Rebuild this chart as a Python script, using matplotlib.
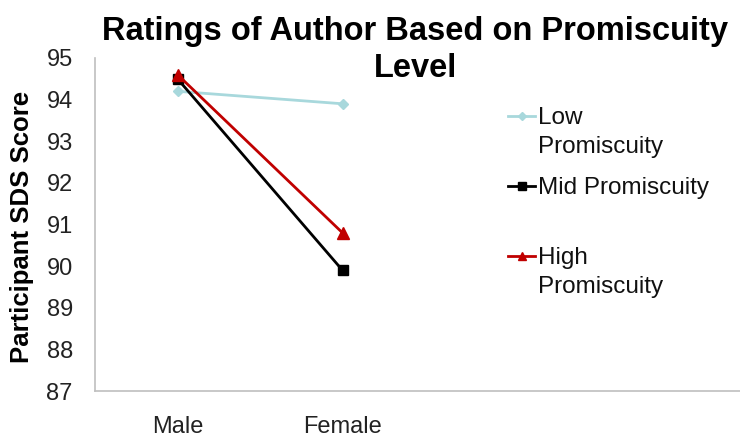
import matplotlib
matplotlib.use("Agg")
import matplotlib.pyplot as plt
from matplotlib.lines import Line2D

plt.rcParams['font.family'] = ['Liberation Sans', 'DejaVu Sans']

categories = ["Male", "Female"]
series_names = [["Low", "Promiscuity"], ["Mid Promiscuity"], ["High", "Promiscuity"]]
low_values = [94.2, 93.9]
mid_values = [94.5, 89.9]
high_values = [94.6, 90.8]
y_ticks = [87, 88, 89, 90, 91, 92, 93, 94, 95]

W, H = 740, 437
fig = plt.figure(figsize=(W / 100, H / 100), dpi=100)
ax = fig.add_axes([95 / W, (H - 391) / H, (W - 95) / W, (391 - 58) / H])

styles = [
    dict(color="#A8D8DC", marker="D", markersize=5, lw=2.0),
    dict(color="#000000", marker="s", markersize=7, lw=2.0),
    dict(color="#C00000", marker="^", markersize=8, lw=2.0),
]
xs = list(range(len(categories)))
for vals, st in zip([low_values, mid_values, high_values], styles):
    ax.plot(xs, vals, color=st["color"], marker=st["marker"],
            markersize=st["markersize"], lw=st["lw"],
            markerfacecolor=st["color"], markeredgecolor=st["color"],
            solid_capstyle="butt", zorder=3)

ax.set_xlim(-0.5, (W - 95) / 165 - 0.5)
ax.set_ylim(87, 95)
ax.set_yticks(y_ticks)
ax.set_xticks(xs)
ax.set_xticklabels(categories)
ax.tick_params(axis="both", length=0, labelsize=17, colors="#222222")
ax.tick_params(axis="y", pad=16)
ax.tick_params(axis="x", pad=18)
for s in ["top", "right"]:
    ax.spines[s].set_visible(False)
for s in ["left", "bottom"]:
    ax.spines[s].set_color("#BFBFBF")
    ax.spines[s].set_linewidth(1.2)

fig.text(22 / W, 1 - 227 / H, "Participant SDS Score", rotation=90,
         fontsize=18.5, fontweight="bold", ha="center", va="center")

fig.text(415 / W, 1 - 40 / H, "Ratings of Author Based on Promiscuity",
         ha="center", va="baseline", fontsize=23.5, fontweight="bold")
fig.text(415 / W, 1 - 77 / H, "Level",
         ha="center", va="baseline", fontsize=23.5, fontweight="bold")

# legend entries, one per series, stacked at a fixed spacing
leg_y = [116, 186, 256]
for lines, st, y in zip(series_names, styles, leg_y):
    yf = 1 - y / H
    fig.add_artist(Line2D([508 / W, 535 / W], [yf, yf], transform=fig.transFigure,
                          color=st["color"], lw=st["lw"]))
    fig.add_artist(Line2D([521.5 / W], [yf], transform=fig.transFigure,
                          color=st["color"], marker=st["marker"],
                          markersize=st["markersize"] * 0.8, lw=0))
    for i, line in enumerate(lines):
        fig.text(538 / W, 1 - (y + 8 + 29 * i) / H, line, fontsize=17.5,
                 color="#111111", ha="left", va="baseline")

fig.savefig("out.png", dpi=100)
